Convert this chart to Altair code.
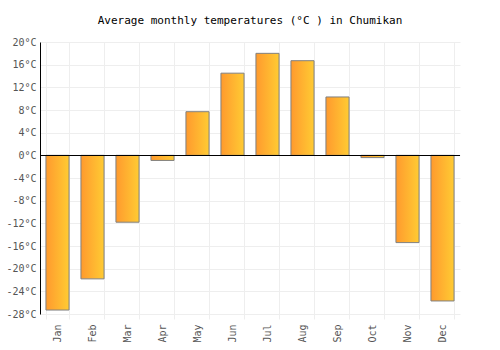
import altair as alt
import pandas as pd

months = ["Jan", "Feb", "Mar", "Apr", "May", "Jun", "Jul", "Aug", "Sep", "Oct", "Nov", "Dec"]
temps = [-27.3, -21.8, -11.8, -0.9, 7.7, 14.5, 18.0, 16.7, 10.3, -0.4, -15.4, -25.7]
y_ticks = list(range(-28, 21, 4))

df = pd.DataFrame({"month": months, "temp": temps})
FONT = "DejaVu Sans Mono"

grad = alt.LinearGradient(
    gradient="linear",
    stops=[alt.GradientStop(color="#FF9A2E", offset=0), alt.GradientStop(color="#FFCB33", offset=1)],
    x1=0, x2=1, y1=0, y2=0,
)

y_axis = alt.Axis(values=y_ticks, labelExpr="datum.value + '°C'", labelFont=FONT, labelFontSize=10,
                  labelColor="#555555", grid=True, gridColor="#eeeeee", domainColor="#000000",
                  ticks=False, labelPadding=4, labelOverlap=False, tickCount=13)
y_scale = alt.Scale(domain=[-28, 20], nice=False)

bars = alt.Chart(df).mark_bar(color=grad, stroke="#808080", strokeWidth=1).encode(
    x=alt.X("month:N", sort=months, title=None,
            scale=alt.Scale(paddingInner=0.34, paddingOuter=0.17),
            axis=alt.Axis(tickBand="extent", labelAngle=270, labelFont=FONT, labelFontSize=10,
                          labelColor="#555555", grid=True, gridColor="#eeeeee", domain=False,
                          tickColor="#eeeeee", labelPadding=5, labelBaseline="middle", labelAlign="right")),
    y=alt.Y("temp:Q", title=None, scale=y_scale, axis=y_axis),
)

zero = alt.Chart(df).mark_rule(color="#000000", strokeWidth=1, yOffset=0.17).encode(
    y=alt.Y(datum=0, title=None, scale=y_scale, axis=y_axis)
)

chart = alt.layer(bars, zero).properties(
    width=420, height=272,
    autosize=alt.AutoSizeParams(type="none"),
    padding={"left": 40, "top": 42, "right": 40, "bottom": 36},
    title=alt.TitleParams("Average monthly temperatures (°C ) in Chumikan", font=FONT, fontSize=11,
                          fontWeight="normal", color="#000000", offset=11),
).configure_view(stroke=None)

chart.save("out.html", embed_options={"renderer": "svg", "actions": False})
